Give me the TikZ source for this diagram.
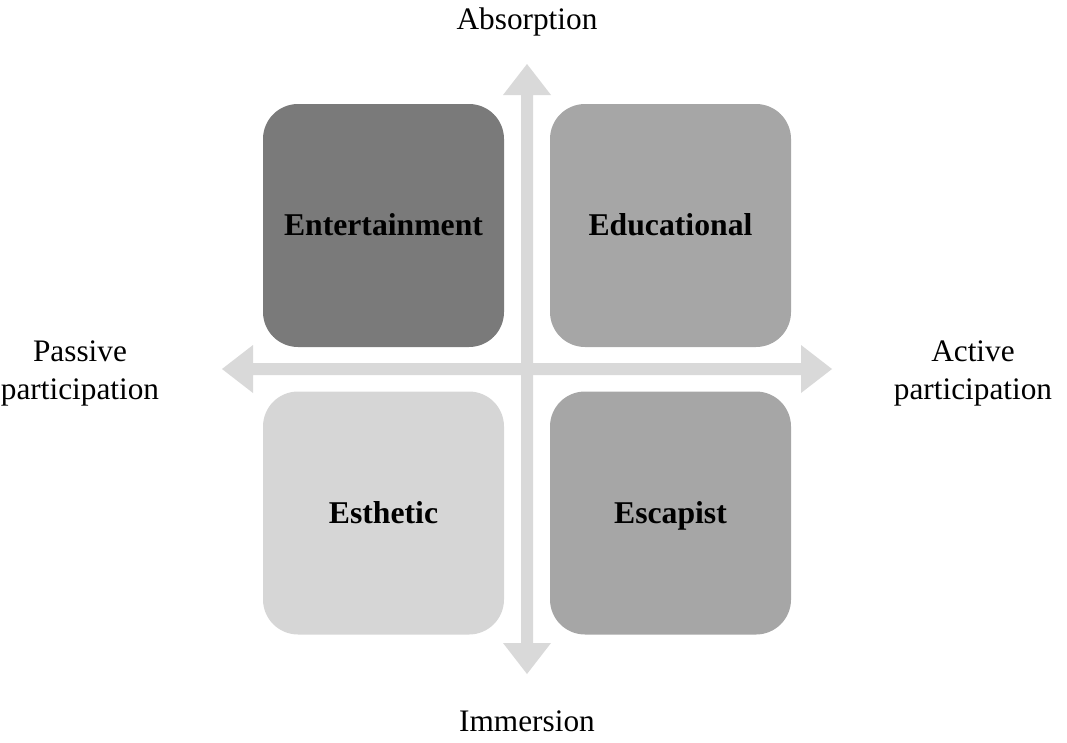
\documentclass[tikz,border=0pt]{standalone}
\usepackage{fontspec}
\setmainfont{Liberation Serif}
\definecolor{axisgray}{HTML}{D9D9D9}
\definecolor{darkbox}{HTML}{7A7A7A}
\definecolor{midbox}{HTML}{A6A6A6}
\definecolor{lightbox}{HTML}{D6D6D6}
\begin{document}
\begin{tikzpicture}[x=1pt,y=-1pt,
  quad/.style={rounded corners=35pt,minimum width=241pt,minimum height=243pt,
    inner sep=0pt,text height=27pt,text depth=7pt,
    font=\fontsize{31.7}{38}\selectfont\bfseries},
  axislabel/.style={align=center,font=\fontsize{31.3}{38}\selectfont},
  axisfill/.style={fill=axisgray}]
\useasboundingbox (0,0) rectangle (1067,742);
% horizontal double arrow
\fill[axisfill] (222,369) -- (253,345) -- (253,363) -- (801,363) -- (801,345) -- (832,369)
  -- (801,393) -- (801,375) -- (253,375) -- (253,393) -- cycle;
% vertical double arrow
\fill[axisfill] (527,64) -- (551,95) -- (533,95) -- (533,643) -- (551,643) -- (527,674)
  -- (503,643) -- (521,643) -- (521,95) -- (503,95) -- cycle;
\node[quad,fill=darkbox] (ent) at (383.5,225.5) {Entertainment};
\node[quad,fill=midbox] (edu) at (670.5,225.5) {Educational};
\node[quad,fill=lightbox] (est) at (383.5,513) {Esthetic};
\node[quad,fill=midbox] (esc) at (670.5,513) {Escapist};
\node[axislabel] (abs) at (527,22) {Absorption};
\node[axislabel] (imm) at (527,721) {Immersion};
\node[axislabel] (pas) at (80,373) {Passive\\participation};
\node[axislabel] (act) at (973,373) {Active\\participation};
\end{tikzpicture}
\end{document}
